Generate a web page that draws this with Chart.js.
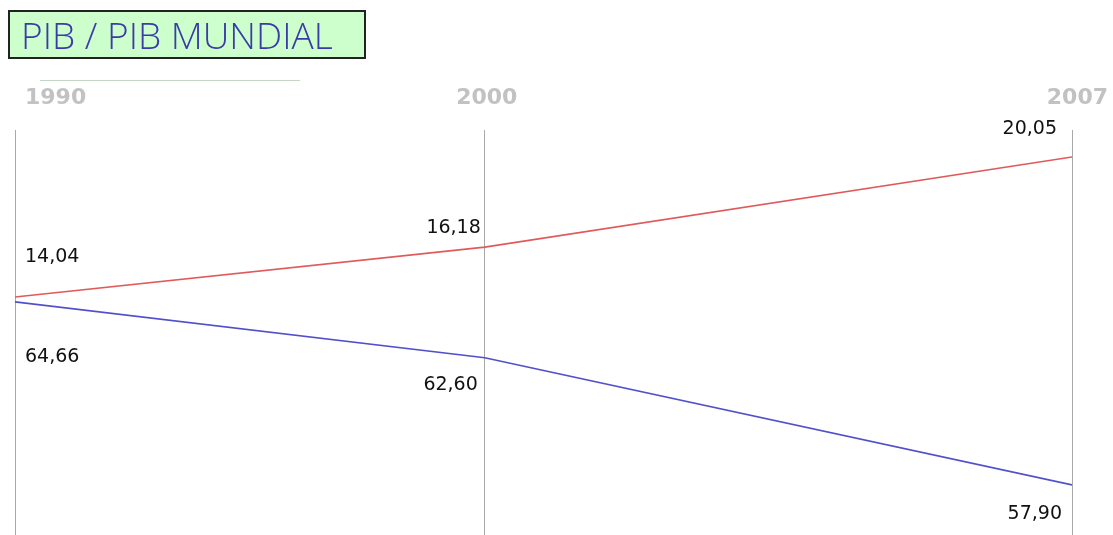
<!DOCTYPE html>
<html>
<head>
<meta charset="utf-8">
<script src="https://cdn.jsdelivr.net/npm/chart.js@4/dist/chart.umd.min.js"></script>
<style>
    body { margin: 0; background: #fff; overflow: hidden; }
    #wrap { position: relative; width: 1113px; height: 535px; }
    #title {
        position: absolute; left: 8px; top: 10px; width: 343px; height: 45px;
        background: #ccffcc; border: 2px solid #222;
        font-family: "Open Sans", sans-serif; font-weight: 300; font-size: 37px;
        color: #3a3aa8; line-height: 45px; padding-left: 11px; box-sizing: content-box;
        white-space: nowrap;
    }
    #rule { position: absolute; left: 40px; top: 80px; width: 260px; height: 1px; background: #c6d6c6; }
    canvas { position: absolute; left: 0; top: 0; }
</style>
</head>
<body>
<div id="wrap">
    <canvas id="pibChart" width="1113" height="535"></canvas>
    <div id="rule"></div>
    <div id="title">PIB / PIB MUNDIAL</div>
</div>
<script>
// 年份 & 数据
const years = ["1990", "2000", "2007"];
const yearPos = [0, 4, 9];
const redValues = [14.04, 16.18, 20.05];
const blueValues = [64.66, 62.60, 57.90];
const redLabels = ["14,04", "16,18", "20,05"];
const blueLabels = ["64,66", "62,60", "57,90"];

// 标签位置 (相对于点的偏移)
const redOffsets = [{ dx: 10, dy: -40, align: "left" }, { dx: -4, dy: -19, align: "right" }, { dx: -15, dy: -28, align: "right" }];
const blueOffsets = [{ dx: 10, dy: 55, align: "left" }, { dx: -7, dy: 27, align: "right" }, { dx: -10, dy: 29, align: "right" }];
const yearOffsets = [{ dx: 10, align: "left" }, { dx: 2, align: "center" }, { dx: 36, align: "right" }];

// 文字插件
const textPlugin = {
    id: "textPlugin",
    afterDatasetsDraw(chart) {
        const ctx = chart.ctx;
        const x = chart.scales.x;
        ctx.save();
        ctx.textBaseline = "middle";

        // 年份
        ctx.font = "bold 22px 'DejaVu Sans'";
        ctx.fillStyle = "#c2c2c2";
        years.forEach((y, i) => {
            ctx.textAlign = yearOffsets[i].align;
            ctx.fillText(y, x.getPixelForValue(yearPos[i]) + yearOffsets[i].dx, 98);
        });

        // 数值
        ctx.font = "19px 'DejaVu Sans'";
        ctx.fillStyle = "#111";
        [[0, redLabels, redOffsets], [1, blueLabels, blueOffsets]].forEach(([di, labels, offs]) => {
            chart.getDatasetMeta(di).data.forEach((pt, i) => {
                ctx.textAlign = offs[i].align;
                ctx.fillText(labels[i], pt.x + offs[i].dx, pt.y + offs[i].dy);
            });
        });
        ctx.restore();
    }
};

const ctx = document.getElementById("pibChart").getContext("2d");
new Chart(ctx, {
    type: "line",
    data: {
        datasets: [{
            data: yearPos.map((p, i) => ({ x: p, y: redValues[i] })),
            borderColor: "#e05a5a",
            borderWidth: 1.6,
            pointRadius: 0,
            yAxisID: "yR"
        }, {
            data: yearPos.map((p, i) => ({ x: p, y: blueValues[i] })),
            borderColor: "#5050cc",
            borderWidth: 1.6,
            pointRadius: 0,
            yAxisID: "yB"
        }]
    },
    options: {
        responsive: false,
        animation: false,
        layout: { padding: { top: 130, left: 15, right: 41, bottom: 0 } },
        plugins: { legend: { display: false }, tooltip: { enabled: false } },
        scales: {
            x: {
                type: "linear",
                min: 0,
                max: 9,
                afterBuildTicks: axis => { axis.ticks = yearPos.map(v => ({ value: v })); },
                ticks: { display: false },
                grid: { color: "#a8a8a8", lineWidth: 1, drawTicks: false },
                border: { display: false }
            },
            yR: { display: false, min: 3.82, max: 21.21 },
            yB: { display: false, min: 56.05, max: 71.01 }
        }
    },
    plugins: [textPlugin]
});
</script>
</body>
</html>
